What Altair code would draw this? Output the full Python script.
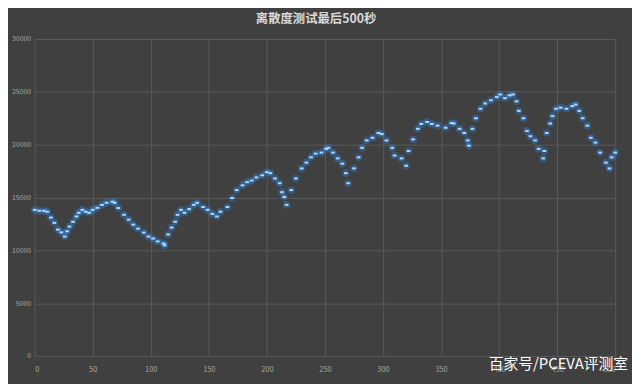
import altair as alt
import pandas as pd

title_text = "离散度测试最后500秒"
watermark = "百家号/PCEVA评测室"

seconds = [0, 4, 8, 11, 14, 17, 20, 23, 26, 28, 30, 33, 36, 38, 41, 44, 47, 50, 54, 58,
           62, 67, 69, 72, 77, 81, 85, 89, 94, 98, 102, 106, 111, 112, 115, 118, 121, 123, 126, 129,
           133, 137, 140, 145, 149, 153, 157, 160, 166, 170, 174, 179, 183, 187, 191, 196, 200, 203, 207, 211,
           213, 215, 217, 221, 225, 230, 234, 238, 242, 247, 251, 253, 257, 261, 265, 268, 270, 275, 279, 282,
           286, 291, 296, 299, 303, 308, 310, 316, 320, 322, 326, 330, 333, 338, 342, 347, 354, 359, 361, 366,
           370, 373, 374, 377, 380, 384, 388, 393, 398, 401, 405, 409, 412, 415, 417, 421, 424, 427, 431, 434,
           438, 439, 441, 444, 446, 449, 453, 458, 463, 466, 469, 472, 476, 479, 483, 487, 492, 495, 497, 500]
values = [13830, 13740, 13740, 13650, 13100, 12600, 11960, 11700, 11300, 11800, 12250, 12700, 13200, 13550, 13830, 13650, 13550, 13830, 14020, 14300,
          14500, 14600, 14500, 14000, 13360, 12900, 12430, 12050, 11680, 11300, 11120, 10840, 10650, 10470, 11500, 12150, 12700, 13360, 13830, 13550,
          13900, 14300, 14500, 14100, 13830, 13450, 13200, 13650, 14100, 14950, 15700, 16150, 16450, 16600, 16900, 17100, 17400, 17300, 16800, 16350,
          15500, 15050, 14300, 15700, 16800, 17750, 18300, 18800, 19150, 19250, 19600, 19700, 19250, 18700, 18200, 17300, 16350, 17750, 18800, 19700,
          20400, 20650, 21100, 21000, 20400, 19700, 18970, 18700, 18000, 19400, 20500, 21500, 21960, 22150, 21960, 21800, 21600, 22050, 22000, 21500,
          21100, 20400, 19900, 21500, 22500, 23400, 23900, 24200, 24500, 24750, 24400, 24670, 24750, 24100, 23200, 22500, 21300, 20800, 20400, 19600,
          18700, 19400, 21100, 22000, 22700, 23400, 23500, 23400, 23650, 23800, 23200, 22500, 21800, 20650, 20200, 19250, 18300, 17750, 18800, 19250]

x_ticks = list(range(0, 501, 50))
y_ticks = list(range(0, 30001, 5000))

df = pd.DataFrame({"t": seconds, "v": values})

font = "Noto Sans CJK SC"
x = alt.X("t:Q", scale=alt.Scale(domain=[0, 500], nice=False),
          axis=alt.Axis(values=x_ticks, title=None, ticks=False, domain=False, format="d",
                        labelColor="#a6a6a6", labelFontSize=7.5, labelPadding=10, labelFont=font,
                        gridColor="#5a5a5a", gridWidth=1))
y = alt.Y("v:Q", scale=alt.Scale(domain=[0, 30000], nice=False),
          axis=alt.Axis(values=y_ticks, title=None, ticks=False, domain=False, format="d",
                        labelColor="#a6a6a6", labelFontSize=7, labelPadding=4, labelFont=font,
                        gridColor="#5a5a5a", gridWidth=1))

dash = "M-1,-0.55L1,-0.55L1,0.55L-1,0.55Z"
glow = alt.Chart(df).mark_point(shape="circle", filled=True, size=60, color="#2f7fd6",
                                opacity=0.4, strokeWidth=0).encode(x=x, y=y)
core = alt.Chart(df).mark_point(shape=dash, filled=True, size=14, color="#a9d8ff",
                                opacity=1, strokeWidth=0).encode(x=x, y=y)

wm = alt.Chart(pd.DataFrame({"s": [watermark]})).mark_text(
    align="right", baseline="middle", fontSize=15, font=font, color="#ffffff"
).encode(x=alt.value(601), y=alt.value(329), text="s:N")

chart = alt.layer(glow, core, wm).properties(
    width=588, height=321,
    title=alt.TitleParams(title_text, fontSize=12.5, fontWeight="bold", color="#d9d9d9",
                          font=font, anchor="middle", offset=10, dx=-9),
    autosize=alt.AutoSizeParams(type="none"),
    padding={"left": 27, "top": 29, "right": 17, "bottom": 26},
    background="#404040",
).configure_view(stroke=None)

chart.save("out.html", embed_options={"renderer": "svg", "actions": False})
